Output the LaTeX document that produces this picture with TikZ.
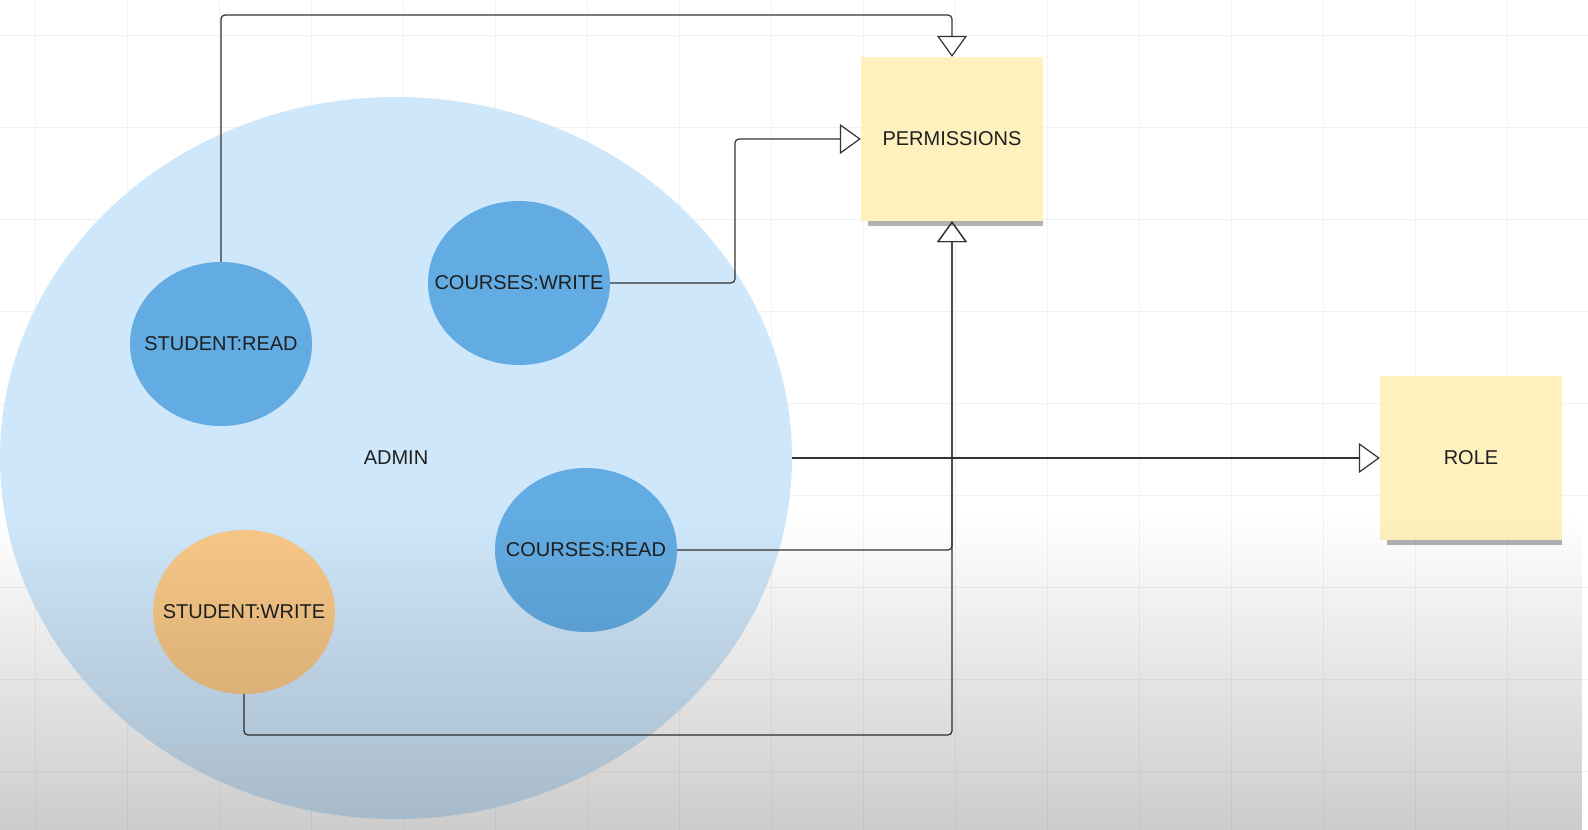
\documentclass[tikz,border=0pt]{standalone}
\usepackage{fontspec}
\setmainfont{Liberation Sans}
\usetikzlibrary{arrows.meta,shapes.geometric,shadows,fadings}
\definecolor{adminblue}{HTML}{CFE7FA}
\definecolor{permblue}{HTML}{62ACE3}
\definecolor{writeorange}{HTML}{F8C887}
\definecolor{noteyellow}{HTML}{FFF1BE}
\definecolor{linkgray}{HTML}{333333}
\definecolor{gridgray}{HTML}{F2F2F2}
\tikzset{
%Define standard arrow tip
>={Triangle[open,length=21pt,width=30pt]},
%Define styles for the shapes
note text/.style={font=\fontsize{20}{24}\selectfont, text=black!88},
role set/.style={ellipse, fill=adminblue, minimum width=792pt, minimum height=722pt, inner sep=0pt, note text},
permission/.style={ellipse, fill=permblue, minimum width=182pt, minimum height=164pt, inner sep=0pt,
  label={[note text]center:#1}},
sticky/.style={fill=noteyellow, minimum width=182pt, minimum height=164pt, inner sep=0pt, note text,
  drop shadow={shadow xshift=4pt, shadow yshift=-9pt, shadow scale=0.96, fill=black, opacity=0.3}},
%Define style for the connections
link/.style={->, draw=linkgray, line width=1.2pt, rounded corners=4pt},
gridline/.style={draw=gridgray, line width=1pt},
}

\begin{document}
\begin{tikzpicture}[x=1pt,y=-1pt]

    % canvas
    \useasboundingbox (0,0) rectangle (1588,830);
    \clip (0,0) rectangle (1588,830);
    \fill[white] (0,0) rectangle (1588,830);
    \foreach \x in {35,127,...,1588} \draw[gridline] (\x,0) -- (\x,830);
    \foreach \y in {35,127,...,830} \draw[gridline] (0,\y) -- (1588,\y);

    % role with its permissions
    \node[role set] (admin) at (396,458) {ADMIN};
    \node[permission=STUDENT:READ] (sread) at (221,344) {};
    \node[permission=COURSES:WRITE] (cwrite) at (519,283) {};
    \node[permission=COURSES:READ] (cread) at (586,550) {};
    \node[permission=STUDENT:WRITE, fill=writeorange] (swrite) at (244,612) {};

    % sticky notes
    \node[sticky] (perm) at (952,139) {PERMISSIONS};
    \node[sticky] (role) at (1471,458) {ROLE};

    % bends of the connections
    \coordinate (ptop) at (952,15);
    \coordinate (cwbend) at (735,139);
    \coordinate (pbot) at (952,735);

    % connections
    \draw[link] (sread.north) |- (ptop) -- (perm.north);
    \draw[link] (cwrite.east) -| (cwbend) -- (perm.west);
    \draw[link] (cread.east) -| (perm.south);
    \draw[link] (swrite.south) |- (pbot) -- (perm.south);
    \draw[link] (admin.east) -- (role.west);

    % darker lower part
    \fill[black, path fading=north, fill opacity=0.2] (0,515) rectangle (1588,830);
\end{tikzpicture}
\end{document}
